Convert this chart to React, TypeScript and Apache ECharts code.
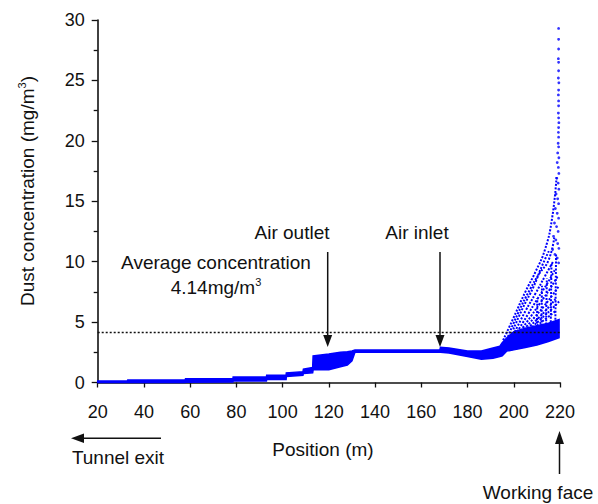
import React, { useEffect, useRef } from "react";
import * as echarts from "echarts";

// Band of dense points (position m, lower and upper concentration mg/m3)
const bandX = [20, 32.8, 33, 57.8, 58, 78.5, 78.6, 93, 93.1, 101.5, 101.6, 108.8, 109, 113, 113.2, 120, 125, 128, 130, 131.3, 168, 168.3, 172, 180, 186, 191, 194, 195, 197, 200, 205, 210, 215, 219.6];
const bandLow = [0, 0, 0, 0, 0.02, 0.05, 0.12, 0.12, 0.25, 0.25, 0.5, 0.6, 0.75, 0.8, 1.05, 1.05, 1.3, 1.45, 1.8, 2.5, 2.5, 2.5, 2.45, 2.15, 1.92, 2.0, 2.15, 2.2, 2.6, 2.7, 2.9, 3.1, 3.4, 3.7];
const bandHigh = [0.12, 0.12, 0.2, 0.2, 0.32, 0.32, 0.45, 0.45, 0.6, 0.6, 0.8, 0.9, 1.1, 1.25, 2.2, 2.35, 2.5, 2.55, 2.6, 2.68, 2.68, 2.92, 2.85, 2.6, 2.6, 2.85, 3.0, 3.3, 3.7, 4.2, 4.5, 4.7, 4.9, 5.2];

// Dotted fan of points near the working face
const ray1 = [[195.4, 3.5], [200, 5.4], [205, 7.5], [209.5, 9.2], [213.5, 11.0], [216.5, 13.5], [218.5, 17.0]];
const ray2 = [[197.5, 3.8], [202, 5.8], [207, 7.7], [211, 9.0], [215, 10.1], [217.5, 12.0]];
const ray3 = [[199.8, 4.4], [204, 6.2], [208.5, 7.9], [212.1, 9.6], [215.5, 11.0]];
const ray4 = [[200.5, 4.2], [205, 5.9], [209.5, 7.4], [213.5, 8.8], [217, 10.0]];
const ray5 = [[201.5, 4.2], [206, 5.6], [210.5, 7.0], [214.5, 8.2], [218, 9.4]];
const ray6 = [[203, 4.3], [207.5, 5.5], [211.5, 6.6], [215.5, 7.7], [219, 8.8]];
const ray7 = [[204.5, 4.4], [209, 5.4], [213, 6.3], [217, 7.3], [219.6, 8.0]];
const ray8 = [[206, 4.5], [210.5, 5.3], [214.5, 6.1], [218, 6.9]];
const ray9 = [[208, 4.6], [212, 5.3], [216, 6.0], [219.6, 6.7]];
const ray10 = [[210, 4.7], [214, 5.3], [218, 5.9]];
const stem1 = [[210, 4.6], [210.2, 7.0]];
const stem2 = [[212, 4.7], [212.2, 8.0]];
const stem3 = [[214, 4.8], [214.3, 8.6]];
const stem4 = [[216, 5.0], [216.3, 9.8]];
const stem5 = [[218, 5.2], [218.3, 10.6]];
const rays = [ray1, ray2, ray3, ray4, ray5, ray6, ray7, ray8, ray9, ray10, stem1, stem2, stem3, stem4, stem5];

// Column of points at the working face
const columnPoints = [
  [219.4, 29.3], [219.4, 28.4], [219.4, 27.6], [219.3, 26.8], [219.4, 26.5], [219.4, 25.8], [219.3, 25.2],
  [219.5, 24.8], [219.4, 24.2], [219.3, 23.8], [219.4, 23.3], [219.4, 22.9], [219.3, 22.3], [219.4, 21.9],
  [219.5, 21.5], [219.4, 21.1], [219.3, 20.7], [219.4, 20.3], [219.2, 19.8], [219.4, 19.5], [219.0, 19.0],
  [219.5, 18.6], [218.8, 18.2], [219.3, 17.8], [219.5, 17.3], [218.6, 16.9], [219.2, 16.5], [219.5, 16.0],
  [218.3, 15.6], [219.0, 15.2], [219.4, 14.8], [218.0, 14.4], [218.8, 14.0], [219.4, 13.6], [217.6, 13.2],
  [218.5, 12.9], [219.2, 12.5], [217.2, 12.1], [218.2, 11.8], [219.0, 11.5], [219.5, 11.1], [216.8, 11.0],
  [217.8, 10.6], [218.8, 10.3], [219.4, 9.9],
];

const averageConcentration = 4.14;

const FONT = "'Liberation Sans', Arial, sans-serif";
const BLUE = "#0000ff";
const INK = "#111";

export default function App() {
  const ref = useRef<HTMLDivElement>(null);

  useEffect(() => {
    document.body.style.margin = "0";
    if (!ref.current) return;
    const chart = echarts.init(ref.current, undefined, { renderer: "svg" });

    const raySeries = rays.map((r) => ({
      type: "line",
      data: r,
      symbol: "none",
      smooth: true,
      lineStyle: { color: BLUE, width: 2, type: [2, 1.5] },
      z: 3,
    }));

    const arrowLine = (x1: number, y1: number, x2: number, y2: number) => ({
      type: "line",
      shape: { x1, y1, x2, y2 },
      style: { stroke: INK, lineWidth: 1.5 },
    });
    const head = (pts: number[][]) => ({
      type: "polygon",
      shape: { points: pts },
      style: { fill: INK },
    });
    const txt = (text: string, x: number, y: number, extra: any = {}) => ({
      type: "text",
      x,
      y,
      style: {
        text,
        fill: INK,
        font: `19px ${FONT}`,
        align: "center",
        verticalAlign: "middle",
        ...extra,
      },
    });

    chart.setOption({
      animation: false,
      grid: { left: 97.7, right: 38, top: 20, bottom: 121.5 },
      xAxis: {
        type: "value",
        min: 20,
        max: 220,
        interval: 20,
        axisLine: { show: true, onZero: false, lineStyle: { color: INK, width: 1.6 } },
        axisTick: { show: true, length: 5, lineStyle: { color: INK, width: 1.3 } },
        axisLabel: { color: INK, fontSize: 18, fontFamily: FONT, margin: 20 },
        splitLine: { show: false },
      },
      yAxis: {
        type: "value",
        min: 0,
        max: 30,
        interval: 5,
        axisLine: { show: true, lineStyle: { color: INK, width: 1.6 } },
        axisTick: { show: true, length: 6, lineStyle: { color: INK, width: 1.3 } },
        minorTick: { show: true, splitNumber: 2, length: 4, lineStyle: { color: INK, width: 1.3 } },
        axisLabel: { color: INK, fontSize: 18, fontFamily: FONT, margin: 13 },
        splitLine: { show: false },
      },
      series: [
        {
          type: "custom",
          data: [0],
          z: 2,
          renderItem: (params: any, api: any) => {
            const upper = bandX.map((x, i) => api.coord([x, bandHigh[i]]));
            const lower = bandX.map((x, i) => api.coord([x, bandLow[i]])).reverse();
            return {
              type: "polygon",
              shape: { points: upper.concat(lower) },
              style: { fill: BLUE, stroke: BLUE, lineWidth: 1.5 },
            };
          },
          markLine: {
            silent: true,
            symbol: "none",
            label: { show: false },
            lineStyle: { color: INK, type: [2, 2], width: 1.4 },
            data: [{ yAxis: averageConcentration }],
          },
        },
        ...raySeries,
        {
          type: "scatter",
          data: columnPoints,
          symbolSize: 2.8,
          itemStyle: { color: BLUE },
          z: 3,
        },
      ],
      graphic: [
        {
          type: "text",
          x: 27,
          y: 191,
          rotation: Math.PI / 2,
          style: {
            text: "{a|Dust concentration (mg/m}{s|3}{a|)}",
            fill: INK,
            align: "center",
            verticalAlign: "middle",
            rich: {
              a: { font: `19px ${FONT}`, fill: INK, verticalAlign: "middle", lineHeight: 22 },
              s: { font: `11px ${FONT}`, fill: INK, verticalAlign: "top" },
            },
          },
        },
        txt("Position (m)", 323, 449),
        txt("Average concentration", 216, 262),
        {
          type: "text",
          x: 216,
          y: 287,
          style: {
            text: "{a|4.14mg/m}{s|3}",
            fill: INK,
            align: "center",
            verticalAlign: "middle",
            rich: {
              a: { font: `19px ${FONT}`, fill: INK, verticalAlign: "middle", lineHeight: 22 },
              s: { font: `11px ${FONT}`, fill: INK, verticalAlign: "top" },
            },
          },
        },
        txt("Air outlet", 292, 232),
        txt("Air inlet", 417, 232),
        arrowLine(327.7, 252, 327.7, 338),
        head([[323.2, 335], [332.2, 335], [327.7, 347]]),
        arrowLine(440, 252, 440, 338),
        head([[435.5, 335], [444.5, 335], [440, 347]]),
        arrowLine(161, 438.3, 82, 438.3),
        head([[71, 438.3], [84, 433.6], [84, 443]]),
        txt("Tunnel exit", 118, 457),
        arrowLine(559.5, 474, 559.5, 442),
        head([[559.5, 431], [555, 444], [564, 444]]),
        txt("Working face", 538, 492),
      ],
    });

    return () => chart.dispose();
  }, []);

  return <div ref={ref} style={{ width: 598, height: 504 }} />;
}
